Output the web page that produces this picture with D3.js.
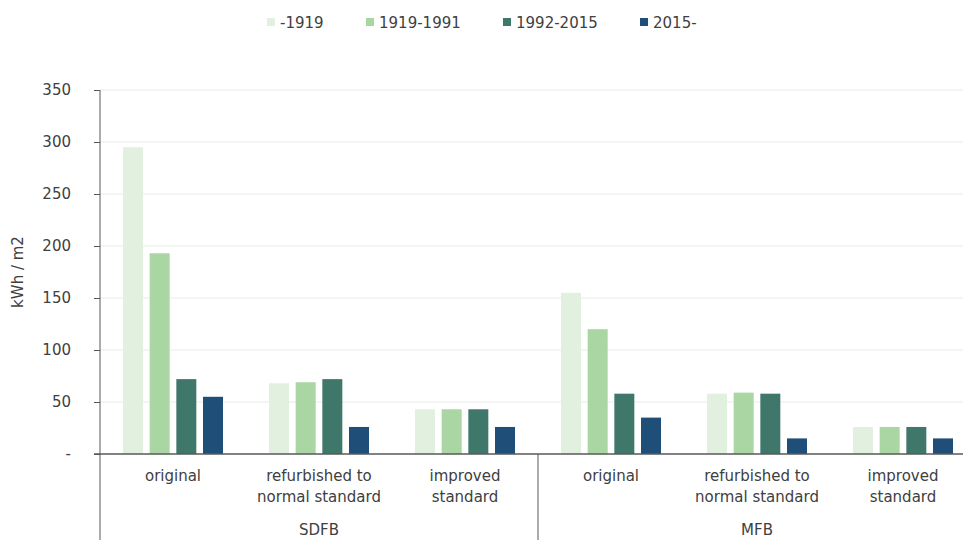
<!DOCTYPE html>
<html>
<head>
<meta charset="utf-8">
<script src="https://cdn.jsdelivr.net/npm/d3@7"></script>
<style>
  body { margin: 0; background: #fff; }
  text { font-family: "DejaVu Sans", sans-serif; fill: #404040; }
</style>
</head>
<body>
<div id="chart"></div>
<script>
// building types and refurbishment states
var buildingTypes = ["SDFB", "MFB"];
var states = [["original"], ["refurbished to", "normal standard"], ["improved", "standard"]];
var periods = ["-1919", "1919-1991", "1992-2015", "2015-"];
var colors = ["#e1f0df", "#a9d6a3", "#3f786a", "#1f4e79"];

// kWh / m2, one row per state, one value per period
var sdfbValues = [
    [295, 193, 72, 55],
    [68, 69, 72, 26],
    [43, 43, 43, 26]
];
var mfbValues = [
    [155, 120, 58, 35],
    [58, 59, 58, 15],
    [26, 26, 26, 15]
];
var yTicks = [0, 50, 100, 150, 200, 250, 300, 350];

function init() {
    var w = 963, h = 540;
    var x0 = 100, y0 = 454;

    var svg = d3.select("#chart").append("svg")
        .attr("width", w)
        .attr("height", h);

    // one slot per (type, state)
    var slots = [];
    buildingTypes.forEach(function (t, ti) {
        var vals = ti === 0 ? sdfbValues : mfbValues;
        states.forEach(function (s, si) {
            slots.push({ key: t + si, type: t, label: s, values: vals[si] });
        });
    });

    var x = d3.scaleBand()
        .domain(slots.map(function (d) { return d.key; }))
        .range([x0, x0 + 146 * slots.length]);

    var xs = d3.scaleBand()
        .domain(periods)
        .range([23, 123])
        .paddingInner(0.25);

    var y = d3.scaleLinear()
        .domain([0, 350])
        .range([y0, 90]);

    // gridlines
    svg.append("g")
        .selectAll("line")
        .data(yTicks.slice(1))
        .enter()
        .append("line")
        .attr("x1", x0).attr("x2", w)
        .attr("y1", function (d) { return y(d); })
        .attr("y2", function (d) { return y(d); })
        .attr("stroke", "#f0f0f0")
        .attr("stroke-width", 1.5);

    // bars
    var groups = svg.append("g")
        .selectAll("g")
        .data(slots)
        .enter()
        .append("g")
        .attr("transform", function (d) { return "translate(" + x(d.key) + ",0)"; });

    groups.selectAll("rect")
        .data(function (d) { return d.values.map(function (v, i) { return { p: periods[i], v: v, i: i }; }); })
        .enter()
        .append("rect")
        .attr("x", function (d) { return xs(d.p); })
        .attr("width", xs.bandwidth())
        .attr("y", function (d) { return y(d.v); })
        .attr("height", function (d) { return y0 - y(d.v); })
        .attr("fill", function (d) { return colors[d.i]; });

    // y axis
    var yAxis = d3.axisLeft(y)
        .tickValues(yTicks)
        .tickSize(6)
        .tickFormat(function (d) { return d === 0 ? "-" : d; });

    var gy = svg.append("g")
        .attr("transform", "translate(" + x0 + ",0)")
        .call(yAxis);
    gy.select(".domain").attr("stroke", "#595959").attr("d", "M0," + y(350) + "V" + h);
    gy.selectAll(".tick line").attr("stroke", "#595959");
    gy.selectAll(".tick text")
        .attr("x", -29)
        .style("font-size", "15px")
        .style("font-family", "'DejaVu Sans', sans-serif")
        .attr("fill", "#404040");

    // x axis baseline
    svg.append("line")
        .attr("x1", x0 - 6).attr("x2", w)
        .attr("y1", y0).attr("y2", y0)
        .attr("stroke", "#595959")
        .attr("stroke-width", 1.3);

    // separator between building types
    svg.append("line")
        .attr("x1", x("MFB0")).attr("x2", x("MFB0"))
        .attr("y1", y0).attr("y2", h)
        .attr("stroke", "#595959");

    // state labels
    groups.append("text")
        .attr("text-anchor", "middle")
        .attr("x", x.bandwidth() / 2)
        .style("font-size", "15px")
        .selectAll("tspan")
        .data(function (d) { return d.label; })
        .enter()
        .append("tspan")
        .attr("x", x.bandwidth() / 2)
        .attr("y", function (d, i) { return 481 + i * 21; })
        .text(function (d) { return d; });

    // building type labels
    svg.append("g")
        .selectAll("text")
        .data(buildingTypes)
        .enter()
        .append("text")
        .attr("text-anchor", "middle")
        .attr("x", function (d) { return x(d + "1") + x.bandwidth() / 2; })
        .attr("y", 535)
        .style("font-size", "15px")
        .text(function (d) { return d; });

    // y label
    svg.append("text")
        .attr("transform", "translate(23,272) rotate(-90)")
        .attr("text-anchor", "middle")
        .style("font-size", "15px")
        .text("kWh / m2");

    // legend
    var legendX = [267, 366, 503, 640];
    var lg = svg.append("g")
        .selectAll("g")
        .data(periods)
        .enter()
        .append("g")
        .attr("transform", function (d, i) { return "translate(" + legendX[i] + ",22)"; });
    lg.append("rect")
        .attr("x", 0).attr("y", -4)
        .attr("width", 8).attr("height", 8)
        .attr("fill", function (d, i) { return colors[i]; });
    lg.append("text")
        .attr("x", 13).attr("y", 6)
        .style("font-size", "15px")
        .text(function (d) { return d; });
}
window.onload = init;
</script>
</body>
</html>
